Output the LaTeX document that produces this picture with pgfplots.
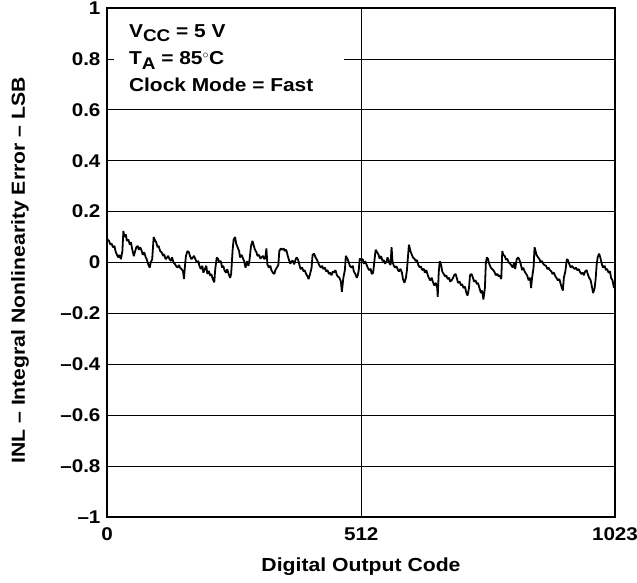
\documentclass[border=0pt]{standalone}
\usepackage{fontspec}
\setmainfont{Liberation Sans}[FakeStretch=1.12]
\usepackage{pgfplots}
\pgfplotsset{compat=1.18}
\usetikzlibrary{calc}
\begin{document}
\begin{tikzpicture}
\begin{axis}[
  at={(0,0)}, anchor=south west,
  scale only axis, width=508bp, height=509bp,
  xmin=0, xmax=1023, ymin=-1, ymax=1,
  xtick={0,512,1023}, xticklabels={0,512,1023},
  ytick={-1,-0.8,-0.6,-0.4,-0.2,0,0.2,0.4,0.6,0.8,1},
  yticklabels={–1,–0.8,–0.6,–0.4,–0.2,0,0.2,0.4,0.6,0.8,1},
  xmajorgrids, ymajorgrids,
  grid style={black, line width=0.6pt},
  axis line style={black, line width=1.8pt},
  tick style={black, line width=0.6pt}, tick align=inside, major tick length=6bp,
  ticklabel style={font=\fontsize{18.5}{18.5}\selectfont\bfseries},
  xticklabel style={yshift=-7bp},
  yticklabel style={xshift=-3bp},
  xlabel={Digital Output Code},
  ylabel={INL – Integral Nonlinearity Error – LSB},
  label style={font=\fontsize{19}{19}\selectfont\bfseries},
  xlabel style={at={($(rel axis cs:0.5,0)+(0,-50bp)$)}, anchor=center},
  ylabel style={at={($(rel axis cs:0,0.5)+(-87bp,-8bp)$)}, anchor=center, rotate=0},
]
\fill[white] (axis cs:14,0.97) rectangle (axis cs:478,0.66);
\node[anchor=north west, align=left, inner sep=0pt,
      font=\fontsize{18.75}{27}\selectfont\bfseries] at (axis cs:44,0.935)
  {V\raisebox{-4bp}{\fontsize{17}{17}\selectfont CC} = 5 V\\
   T\raisebox{-5bp}{\fontsize{17}{17}\selectfont A} = 85${}^\circ$C\\
   Clock Mode = Fast};
\addplot[black, line width=1.8pt, line join=bevel] coordinates {
(0,0.10) (1,0.09) (4,0.085) (7,0.07) (9,0.075) (12,0.06) (15,0.065) (17,0.045)
(20,0.03) (23,0.02) (25,0.03) (28,0.013) (31,0.045) (33,0.124) (35,0.10) (38,0.11)
(40,0.085) (43,0.09) (46,0.07) (48,0.08) (51,0.05) (54,0.025) (56,0.04) (59,0.06)
(62,0.065) (64,0.05) (67,0.06) (70,0.045) (72,0.03) (75,0.04) (78,0.02) (80,0.013)
(83,-0.007) (86,-0.02) (88,0) (91,0.013) (94,0.10) (96,0.09) (99,0.08) (102,0.06)
(104,0.065) (107,0.045) (110,0.04) (113,0.026) (115,0.033) (118,0.013) (121,0.02)
(123,0.026) (126,0.013) (129,0.006) (131,0.02) (134,0) (137,-0.007) (139,-0.013)
(142,-0.02) (145,-0.01) (147,-0.02) (150,-0.026) (153,-0.033) (155,-0.065) (157,-0.013)
(159,0.026) (162,0.045) (165,0.04) (167,0.026) (170,0.013) (173,0.02) (175,0.026)
(178,0.013) (181,0) (184,0.006) (186,-0.013) (189,-0.026) (192,-0.013) (194,-0.04)
(197,-0.026) (200,-0.013) (202,-0.045) (205,-0.033) (208,-0.052) (210,-0.045)
(213,-0.065) (216,-0.078) (218,-0.026) (221,0.02) (224,0.013) (226,0) (229,0.006)
(232,-0.02) (234,-0.013) (237,-0.033) (240,-0.04) (242,-0.026) (245,-0.045)
(248,-0.06) (250,-0.045) (253,0.05)
(255,0.09) (258,0.10) (260,0.075) (263,0.06) (266,0.045) (268,0.02) (271,0.03)
(274,0.015) (276,0.006) (279,-0.02) (282,0.005) (285,-0.013) (287,0.01) (290,0.065)
(293,0.085) (295,0.07) (298,0.05) (301,0.04) (303,0.026) (306,0.03) (309,0.015)
(311,0.02) (314,0.026) (317,0.013) (319,0.02) (321,0.055) (323,-0.007) (326,-0.02)
(329,-0.013) (331,-0.03) (334,-0.04) (337,-0.045) (339,-0.03) (342,-0.02) (345,-0.01)
(347,0.045) (350,0.055) (353,0.05) (356,0.055) (358,0.045) (361,0.05) (364,0.026)
(366,0.013) (369,-0.005) (372,0.005) (374,0.007) (377,-0.007) (380,0.013) (382,0.02)
(385,0.01) (388,-0.013) (390,-0.026) (393,-0.02) (396,-0.035) (398,-0.03) (401,-0.045)
(404,-0.055) (406,-0.065) (409,-0.045) (412,-0.02) (414,0.03) (417,0.035) (420,0.02)
(423,0.01) (425,0) (428,-0.013) (431,-0.02) (433,-0.013) (436,-0.026) (439,-0.02)
(441,-0.035) (444,-0.03) (447,-0.045) (449,-0.04) (452,-0.05) (455,-0.035) (457,-0.04)
(460,-0.03) (463,-0.05) (465,-0.055) (468,-0.06) (471,-0.075) (473,-0.115) (476,-0.06)
(479,-0.03) (481,0.026) (484,0.015) (487,0) (489,-0.013) (492,-0.02) (495,-0.013)
(497,-0.035) (500,-0.045) (503,-0.06) (505,-0.05)
(507,-0.03) (509,0.015) (512,0.01) (515,0.013) (517,-0.005) (520,0.005) (523,-0.01)
(525,-0.02) (528,-0.03) (531,-0.025) (533,-0.045) (536,-0.04) (539,0.015) (541,0.05)
(544,0.04) (547,0.03) (549,0.015) (552,0.025) (555,0.005) (557,0.01) (560,-0.005)
(563,0.005) (565,0.02) (568,0) (571,-0.01) (573,0.06) (575,0.003) (577,-0.01)
(580,-0.02) (583,-0.015) (586,-0.03) (588,-0.035) (591,-0.025) (594,-0.04) (596,-0.065)
(599,-0.08) (602,-0.06) (604,-0.03) (606,0.02) (608,0.07) (611,0.045) (614,0.03)
(616,0.02) (619,0.015) (622,0.005) (624,0.01) (627,-0.01) (630,-0.02) (632,-0.015)
(635,-0.03) (638,-0.025) (640,-0.04) (643,-0.03) (646,-0.05) (648,-0.06) (651,-0.07)
(654,-0.06) (656,-0.075) (659,-0.09) (662,-0.08) (665,-0.1) (666,-0.135) (668,-0.04)
(670,0.005) (673,-0.01) (675,-0.035) (678,-0.045) (681,-0.055) (683,-0.05) (686,-0.065)
(689,-0.06) (691,-0.075) (694,-0.07) (697,-0.06) (699,-0.05) (702,-0.045) (705,-0.065)
(707,-0.08) (710,-0.075) (713,-0.09) (715,-0.085) (718,-0.1) (721,-0.095) (723,-0.115)
(726,-0.13) (729,-0.1) (731,-0.05) (734,-0.045) (737,-0.06) (739,-0.075) (742,-0.07)
(745,-0.085) (747,-0.08) (750,-0.1) (753,-0.12) (755,-0.11)
(757,-0.13) (758,-0.145) (761,-0.1) (763,0.0) (765,0.02) (767,0.015) (770,-0.007)
(773,-0.02) (775,-0.025) (778,-0.03) (781,-0.04) (783,-0.05) (786,-0.045) (789,-0.055)
(791,-0.05) (794,-0.065) (796,0.045) (798,0.03) (801,0.025) (804,0.01) (806,0.015)
(809,0) (812,-0.005) (814,-0.01) (817,-0.02) (820,0) (822,-0.026) (825,0.013)
(828,0.02) (830,0.013) (833,-0.005) (836,-0.03) (838,-0.02) (841,-0.035) (844,-0.045)
(846,-0.05) (849,-0.07) (852,-0.06) (854,-0.1) (856,-0.06) (859,-0.02) (861,0.06)
(863,0.045) (865,0.03) (868,0.02) (871,0.013) (873,0) (876,0.006) (879,-0.007)
(881,-0.01) (884,-0.013) (887,-0.026) (889,-0.02) (892,-0.03) (895,-0.035) (897,-0.045)
(900,-0.04) (903,-0.055) (905,-0.06) (908,-0.07) (911,-0.065) (913,-0.08) (916,-0.1)
(918,-0.11) (920,-0.06) (923,-0.035) (926,0.013) (928,0.01) (931,-0.007) (934,-0.02)
(936,-0.013) (939,-0.02) (942,-0.026) (944,-0.02) (947,-0.03) (950,-0.026) (952,-0.035)
(955,-0.045) (958,-0.04) (960,-0.05) (963,-0.035) (966,-0.03) (968,-0.045) (971,-0.06)
(974,-0.07) (976,-0.09) (979,-0.12) (982,-0.1) (984,-0.065) (986,-0.01) (988,0.02)
(991,0.035) (994,0.015) (997,-0.01) (999,-0.02) (1002,-0.013) (1005,-0.03) (1007,-0.025)
(1010,-0.04) (1013,-0.035) (1015,-0.06) (1018,-0.07) (1021,-0.1) (1023,-0.09)
};
\end{axis}
\pgfresetboundingbox
\path[use as bounding box] (-107bp,-66bp) rectangle (530bp,517bp);
\end{tikzpicture}
\end{document}
